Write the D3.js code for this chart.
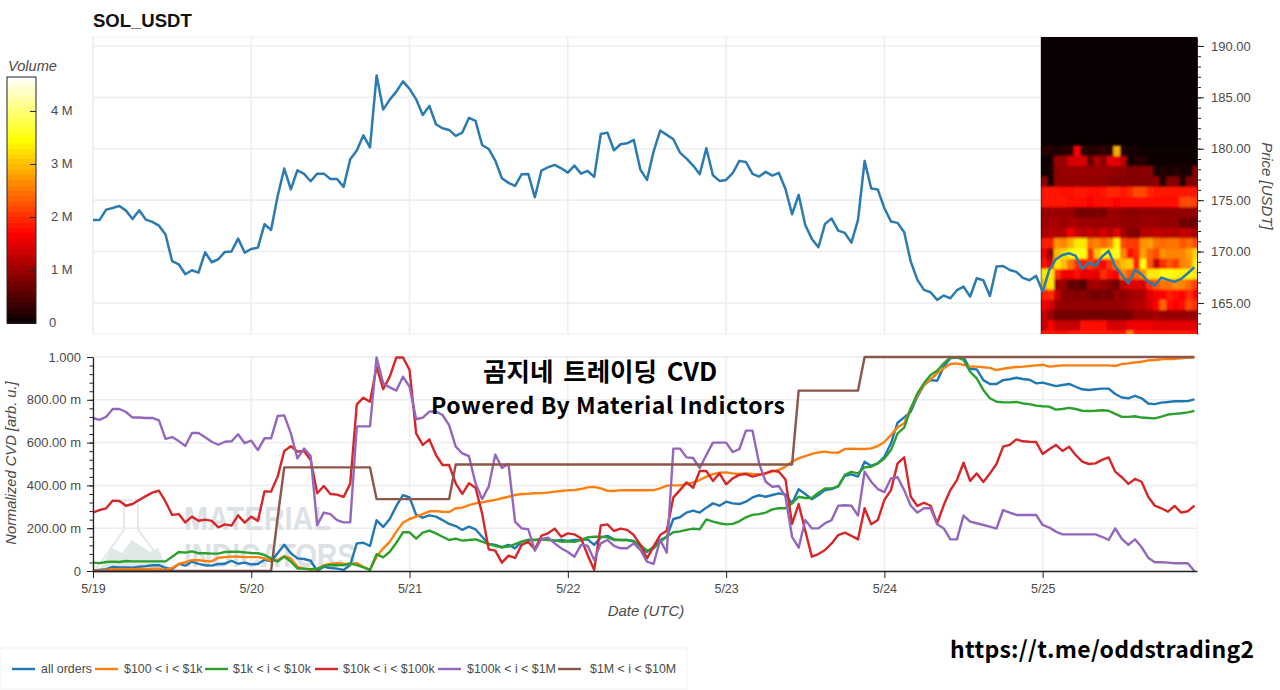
<!DOCTYPE html>
<html><head><meta charset="utf-8">
<script src="https://cdn.jsdelivr.net/npm/d3@7"></script>
<style>html,body{margin:0;padding:0;background:#fff}svg{display:block}text{font-family:"Liberation Sans",Arial,sans-serif}</style>
</head><body><svg id="c" width="1280" height="690"></svg>
<script>
const dayHours=[0,24,48,72,96,120,144];
const dayLabels=["5/19","5/20","5/21","5/22","5/23","5/24","5/25"];
const priceTicks=[165,170,175,180,185,190];
const volumeTicks=[0,1,2,3,4];
const cvdTicks=[0,200,400,600,800,1000];
const seriesNames=["all orders","$100 < i < $1k","$1k < i < $10k","$10k < i < $100k","$100k < i < $1M","$1M < i < $10M"];
const seriesColors=["#1f77b4","#ff7f0e","#2ca02c","#d62728","#9467bd","#8c564b"];

const price=[173.08,173.08,174.08,174.24,174.44,173.98,173.17,174.02,173.11,172.88,172.52,171.65,
169.06,168.76,167.79,168.18,167.95,169.93,168.96,169.25,169.96,170.0,171.26,169.9,
170.25,170.38,172.65,172.1,175.41,178.07,176.06,177.91,177.55,176.84,177.58,177.58,
177.06,177.06,176.29,178.98,179.82,181.31,180.14,187.12,183.81,184.78,185.56,186.56,
185.82,184.81,183.29,184.17,182.38,181.99,181.83,181.25,181.57,183.0,182.71,180.37,
179.98,178.85,177.13,176.68,176.38,177.52,177.55,175.28,177.88,178.2,178.43,178.1,
177.68,178.36,177.58,177.84,177.26,181.44,181.57,179.85,180.44,180.53,180.86,177.97,
176.97,179.72,181.77,181.35,180.92,179.63,179.04,178.36,177.52,180.05,177.42,176.87,
176.97,177.62,178.82,178.72,177.55,177.29,177.75,177.39,177.65,176.09,173.63,175.51,
172.59,171.23,170.42,172.69,173.21,172.04,171.81,170.87,173.08,178.82,176.13,176.03,
174.21,172.92,172.79,171.88,169.02,167.24,166.27,166.04,165.3,165.72,165.46,166.24,
166.59,165.62,167.4,167.21,165.68,168.54,168.6,168.21,168.02,167.44,167.21,167.63,
166.11,168.21,169.25,169.67,169.84,169.58,168.31,168.93,168.6,169.51,170.06,168.54,
167.73,166.92,168.21,167.79,167.08,166.69,167.47,167.24,167.05,167.34,167.89,168.47];

const allOrders=[0,5,9,19,17,17,16,20,23,27,27,14,9,33,25,44,33,27,25,33,34,48,34,39,31,33,53,45,83,123,83,59,56,48,0,20,14,11,5,28,129,132,117,237,206,243,304,354,344,262,249,260,
254,238,220,210,192,207,195,160,126,122,111,122,106,137,145,145,148,148,142,145,140,145,145,148,122,157,164,148,145,145,140,114,89,114,145,160,243,251,273,282,273,296,316,305,324,316,313,324,344,354,347,355,363,358,316,382,360,335,355,378,
383,397,445,452,441,511,491,503,534,597,693,718,745,815,869,892,889,955,994,998,998,944,942,892,874,874,892,896,903,897,894,877,880,872,864,869,874,861,849,846,849,852,852,827,811,807,818,807,783,780,787,790,793,793,794,802];

const orders100=[0,2,5,8,8,8,8,9,9,11,11,5,14,33,41,51,50,47,45,62,65,67,67,65,65,65,59,48,51,70,59,20,11,6,8,27,33,36,34,33,37,20,5,67,106,136,184,226,243,254,266,279,
280,277,276,293,296,308,316,321,327,332,340,347,355,360,361,363,364,366,371,374,377,378,383,391,393,386,375,374,378,377,377,377,377,378,386,399,400,400,405,414,425,441,453,459,461,456,453,456,453,452,456,464,472,488,511,526,537,547,554,558,
553,553,570,572,570,570,573,584,603,636,671,690,760,822,869,896,924,947,967,970,963,955,955,952,949,939,945,950,953,955,958,961,964,955,958,961,961,961,961,961,961,961,961,958,967,970,974,978,984,986,989,991,991,994,997,998];

const orders1k=[39,37,42,44,42,47,45,45,45,45,45,45,67,89,86,92,83,83,81,81,89,90,90,87,84,83,75,59,44,67,44,12,11,9,11,23,28,27,28,36,27,17,5,79,64,90,132,181,181,151,179,189,
176,160,145,151,142,145,148,137,126,117,111,114,126,137,145,145,148,145,142,137,139,136,145,157,160,160,157,145,145,145,137,122,95,106,137,160,181,185,192,198,195,241,231,223,218,220,232,251,262,266,273,288,293,293,316,347,341,341,366,386,
386,394,449,463,456,484,487,503,526,565,643,670,760,830,877,916,936,970,998,998,986,931,900,846,807,791,788,788,790,783,780,773,770,768,754,757,762,757,749,748,749,751,749,734,720,720,723,717,715,713,721,731,734,737,741,748];

const orders10k=[274,285,293,329,327,305,313,332,350,366,375,324,262,266,227,254,235,240,234,204,218,212,260,226,254,234,372,371,441,561,583,558,561,519,363,397,360,357,346,407,779,810,791,955,850,908,998,998,939,643,589,615,
542,495,495,410,360,410,389,269,101,95,39,72,61,122,136,101,165,176,198,160,176,171,153,75,5,213,218,187,198,192,168,122,59,114,168,188,344,378,414,389,467,467,421,456,405,433,449,453,441,449,456,469,464,428,220,313,188,67,79,98,
129,168,179,164,148,293,218,238,332,378,503,531,347,304,319,305,223,308,378,425,506,421,456,416,456,500,581,589,615,606,604,603,547,569,589,561,581,542,511,500,503,519,531,464,438,407,430,417,347,305,293,277,304,273,279,305];

const orders100k=[715,706,721,757,757,743,717,717,715,715,704,617,626,607,584,645,645,625,604,590,604,606,639,597,609,565,620,620,724,727,643,526,572,537,215,273,266,238,227,227,676,676,676,998,877,858,843,908,861,709,717,745,
745,729,682,581,550,537,410,336,394,544,481,500,231,199,195,95,150,156,129,106,89,67,122,118,51,129,145,117,106,106,129,98,44,33,145,86,572,572,531,528,481,542,600,600,600,556,569,656,656,503,417,394,397,347,160,109,238,199,199,223,
238,305,307,305,259,464,417,383,369,433,438,378,305,273,293,293,218,199,148,148,259,231,223,215,207,198,285,273,262,262,262,262,215,203,184,171,171,171,171,171,171,160,145,199,150,122,148,111,62,41,41,39,36,36,36,0];

const orders1m=[0,0,0,0,0,0,0,0,0,0,0,0,0,0,0,0,0,0,0,0,0,0,0,0,0,0,0,0,250,484,484,484,484,484,484,484,484,484,484,484,484,484,484,336,336,336,336,336,336,336,336,336,
336,336,336,498,498,498,498,498,498,498,498,498,498,498,498,498,498,498,498,498,498,498,498,498,498,498,498,498,498,498,498,498,498,498,498,498,498,498,498,498,498,498,498,498,498,498,498,498,498,498,498,498,498,498,498,843,843,843,843,843,
843,843,843,843,843,1000,1000,1000,1000,1000,1000,1000,1000,1000,1000,1000,1000,1000,1000,1000,1000,1000,1000,1000,1000,1000,1000,1000,1000,1000,1000,1000,1000,1000,1000,1000,1000,1000,1000,1000,1000,1000,1000,1000,1000,1000,1000,1000,1000,1000,1000,1000,1000,1000,1000,1000];

/* volume profile rows (millions), one value per hour column */
const vol180=[.2,.2,.15,.2,.2,1.7,.25,.2,.2,.3,.2,2.9,.2,.1,.1,.05,.05,.05,.05,.05,.05,.05,.05,.05];
const vol179=[.03,.03,1.0,1.0,1.4,1.45,1.4,.6,1.15,.9,1.5,1.5,1.2,.05,.2,.2,.05,.05,.05,.05,.05,.05,.05,.05];
const vol178=[.05,.1,.95,1,1,1,1,1,1,1,1,.95,.95,.85,.85,.9,.9,.1,.2,.1,.2,.1,.1,.9];
const vol177=[.9,.05,.95,.95,.95,.95,.95,.95,.95,.95,.85,.85,.85,.85,.85,.85,.85,.9,.15,.85,.85,.15,.85,.85];
const vol176=[1.85,1.85,1.85,1.75,1.75,1.85,1.85,1.75,1.75,1.85,1.95,1.95,1.85,1.95,2.2,2.2,1.95,1.85,1.85,1.85,1.85,1.85,1.85,1.85];
const vol175=[1.85,1.85,1.85,1.85,1.75,1.75,1.75,1.7,1.75,1.75,1.75,1.7,1.75,1.75,1.75,1.75,1.75,1.75,1.75,1.75,1.75,2.2,2.2,2.1];
const vol174=[1,1,1,1,1,.8,.75,.75,.8,.75,1,1,.95,.9,.9,.95,.95,.95,.95,.95,.95,.95,.95,.95];
const vol173=[1,1.1,1.1,1,1.1,1.1,1,1,1,1,1,1,.95,.95,.95,1,1,1,.95,.95,.95,.7,.7,.7];
const vol172=[1.1,1.2,1.1,1.2,1.6,1.3,1.2,1.3,1.2,1.4,1.2,1.5,1.1,.85,.8,1.2,1.2,1.3,1.2,1.2,1.2,1.3,1.2,1.1];
const vol171=[1.9,1.9,2.7,2.6,2.9,3.3,3.3,2.5,2.6,2.4,2.6,3.4,2.2,2.1,2.1,2.7,2.8,2.5,2.4,2.5,2.5,2.3,2.4,2.2];
const vol170=[1.6,.9,3,3.2,3.5,3.6,3.5,2,3,3.4,3.4,3.6,2.6,1.8,2,2.8,2.4,2.2,2.7,2.6,2.6,2.6,2.8,3.2];
const vol169=[1.8,1.5,3.3,3,2.5,2,1.9,2.1,1.9,1.7,2.1,2.7,3,3.1,1.9,3.5,2.3,1.3,2,2.3,2.1,2.6,2.7,3.4];
const vol168=[3.3,3.3,2,1.6,1.6,1.8,1.5,1.6,1.5,2,1.8,1.7,2.6,2.3,2.4,2.7,3.3,3.3,3.5,3.5,3.4,3.4,3.5,3.3];
const vol167=[3,3.3,1,1,.6,.6,.5,1,1.1,1,.9,.7,1.3,1.5,1.5,1.4,2,2.3,2.5,2.5,2.7,2.6,2.4,2.1];
const vol166=[1.9,2,1.3,.9,.9,.8,.9,.8,.7,.8,.7,1,.9,1,1.1,1.1,1.5,1.6,1.7,1.9,1.8,1.7,2,1.7];
const vol165=[1.6,1.4,1,.95,.95,.95,.95,.95,.95,.95,.95,.95,1,1.1,1.2,1.2,1.4,1.7,2.4,1.8,1.7,1.8,2.2,2];
const vol164=[1.3,1,.75,.75,.75,.75,.75,.75,.75,.75,.75,.75,.75,.75,1,1,1,1.1,1,1,1,1,1,1];
const vol163=[1.3,1.7,1.3,1.3,1.3,1.3,1.8,1.8,1.8,1.8,1.4,1.4,1.4,1.6,1.6,1.6,1.6,1.5,1.5,1.5,1.5,1.5,1.5,1.5];
const vol162=[1.9,1.9,1.8,1.8,1.9,1.9,1.9,1.9,1.9,1.9,1.9,1.9,1.9,2.6,1.9,1.9,1.9,1.9,1.9,1.9,1.9,1.9,1.9,1.9];
const volumeRows=[vol180,vol179,vol178,vol177,vol176,vol175,vol174,vol173,vol172,vol171,vol170,vol169,vol168,vol167,vol166,vol165,vol164,vol163,vol162];
const rowTopPrices=[180.3,179.3,178.3,177.3,176.3,175.3,174.3,173.3,172.3,171.3,170.3,169.3,168.3,167.3,166.3,165.3,164.3,163.3,162.3];

const cvd=[allOrders,orders100,orders1k,orders10k,orders100k,orders1m];

const svg=d3.select("#c");
const L=93,R=1197,T1=37,B1=334,T2=357,B2=571;
const x=d3.scaleLinear().domain([0,167.4]).range([L,R]);
const yP=d3.scaleLinear().domain([161.98,190.87]).range([B1,T1]);
const yC=d3.scaleLinear().domain([0,1000]).range([B2,T2]);
const yV=d3.scaleLinear().domain([0,4.64]).range([323,77]);
const hot=d3.scaleLinear().domain([0,1.69,3.45,4.64]).range(["#080000","#ff0000","#ffff00","#ffffff"]);
const grid="#eeeeee",axisCol="#222",labelCol="#4a4a4a";

const defs=svg.append("defs");
defs.append("filter").attr("id","soft").attr("x","-2%").attr("y","-2%").attr("width","104%").attr("height","104%").append("feGaussianBlur").attr("stdDeviation",0.8);
const heatStart=143.72, colW=x(1)-x(0);
const hx0=x(heatStart);
defs.append("clipPath").attr("id","heatClip").append("rect").attr("x",hx0).attr("y",T1).attr("width",R-hx0).attr("height",B1-T1);

// top panel frame and grid
svg.append("rect").attr("x",L).attr("y",T1).attr("width",R-L).attr("height",B1-T1).attr("fill","#fff").attr("stroke","#f0f0f0");
svg.append("g").selectAll("line").data(priceTicks).join("line").attr("x1",L).attr("x2",R).attr("y1",d=>yP(d)).attr("y2",d=>yP(d)).attr("stroke",grid).attr("stroke-width",1.6);
svg.append("g").selectAll("line").data(dayHours).join("line").attr("x1",d=>x(d)).attr("x2",d=>x(d)).attr("y1",T1).attr("y2",B1).attr("stroke",grid).attr("stroke-width",1.6);

// heatmap
svg.append("rect").attr("x",hx0).attr("y",T1).attr("width",R-hx0).attr("height",B1-T1).attr("fill",hot(0));
const hg=svg.append("g").attr("clip-path","url(#heatClip)").append("g").attr("filter","url(#soft)");
volumeRows.forEach((row,r)=>{
  hg.append("g").selectAll("rect").data(row).join("rect")
    .attr("x",(d,i)=>x(heatStart+i)).attr("width",colW+.6)
    .attr("y",yP(rowTopPrices[r])).attr("height",yP(rowTopPrices[r]-1)-yP(rowTopPrices[r])+.5)
    .attr("fill",d=>hot(d));
});

// price line
svg.append("path").datum(price).attr("fill","none").attr("stroke","#2b7bb0").attr("stroke-width",2.5).attr("stroke-linejoin","round")
  .attr("d",d3.line().x((d,i)=>x(i)).y(d=>yP(d)));

// price axis
const pAxis=svg.append("g").attr("transform",`translate(${R},0)`);
pAxis.call(d3.axisRight(yP).tickValues(d3.range(163,191)).tickSize(4).tickSizeOuter(0).tickFormat(""));
pAxis.select(".domain").attr("stroke",axisCol);
pAxis.selectAll("line").attr("stroke",axisCol);
const pAxis2=svg.append("g").attr("transform",`translate(${R},0)`);
pAxis2.call(d3.axisRight(yP).tickValues(priceTicks).tickSize(7).tickPadding(7).tickFormat(d3.format(".2f")));
pAxis2.select(".domain").remove();
pAxis2.selectAll("line").attr("stroke",axisCol);
pAxis2.selectAll("text").attr("fill",labelCol).style("font-size","13px");
svg.append("text").attr("transform","translate(1262,186) rotate(90)").attr("text-anchor","middle").attr("font-style","italic").attr("font-size",15).attr("fill",labelCol).text("Price [USDT]");
svg.append("text").attr("x",93).attr("y",27).attr("font-weight","bold").attr("font-size",18.5).attr("fill","#111").text("SOL_USDT");

// colour bar
const bandStep=0.1;
const bands=d3.range(0,4.64,bandStep);
svg.append("g").attr("shape-rendering","crispEdges").selectAll("rect").data(bands).join("rect")
  .attr("x",7).attr("width",29).attr("y",d=>yV(Math.min(d+bandStep,4.64))).attr("height",d=>yV(d)-yV(Math.min(d+bandStep,4.64))+.5).attr("fill",d=>hot(d+bandStep/2));
svg.append("rect").attr("x",7).attr("y",77).attr("width",29).attr("height",246).attr("fill","none").attr("stroke","#222");
const vAxis=svg.append("g").attr("transform","translate(36,0)");
vAxis.call(d3.axisLeft(yV).tickValues(volumeTicks.slice(1)).tickSize(6).tickFormat(""));
vAxis.select(".domain").remove();vAxis.selectAll("line").attr("stroke","#222");
svg.append("g").selectAll("text").data(volumeTicks).join("text").attr("x",d=>d?51:49).attr("y",d=>yV(d)+(d?4.5:3.5)).attr("font-size",13).attr("fill",labelCol).text(d=>d?d+" M":"0");
svg.append("text").attr("x",8).attr("y",71).attr("font-style","italic").attr("font-size",14.6).attr("fill",labelCol).text("Volume");

// bottom panel grid
svg.append("rect").attr("x",L).attr("y",T2).attr("width",R-L).attr("height",B2-T2).attr("fill","#fff").attr("stroke","#f0f0f0");
svg.append("g").selectAll("line").data(cvdTicks.slice(1)).join("line").attr("x1",L).attr("x2",R).attr("y1",d=>yC(d)).attr("y2",d=>yC(d)).attr("stroke",grid).attr("stroke-width",1.6);
svg.append("g").selectAll("line").data(dayHours).join("line").attr("x1",d=>x(d)).attr("x2",d=>x(d)).attr("y1",T2).attr("y2",B2).attr("stroke",grid).attr("stroke-width",1.6);

// watermark
const wm=svg.append("g");
wm.append("path").attr("d","M120 500L142 500M124 500L124 530L96 569L168 569L138 530L138 500").attr("fill","none").attr("stroke","#e6e9ea").attr("stroke-width",2);
wm.append("path").attr("d","M100 568L112 548L122 553L132 540L150 552L158 548L167 568Z").attr("fill","#e0e9e6");
wm.append("text").attr("x",184).attr("y",530).attr("font-weight","bold").attr("font-size",34).attr("fill","#dce1e5").attr("textLength",147).attr("lengthAdjust","spacingAndGlyphs").text("MATERIAL");
wm.append("text").attr("x",184).attr("y",567).attr("font-weight","bold").attr("font-size",34).attr("fill","#dce1e5").attr("textLength",172).attr("lengthAdjust","spacingAndGlyphs").text("INDICATORS");

// cvd lines
const cLine=d3.line().x((d,i)=>x(i)).y(d=>yC(d));
svg.append("g").selectAll("path").data(cvd).join("path").attr("fill","none").attr("stroke",(d,i)=>seriesColors[i]).attr("stroke-width",2.4).attr("stroke-linejoin","round").attr("d",cLine);

// cvd axes
const cMinor=svg.append("g").attr("transform",`translate(${L},0)`);
cMinor.call(d3.axisLeft(yC).tickValues(d3.range(0,1001,40)).tickSize(3.5).tickSizeOuter(0).tickFormat(""));
cMinor.selectAll("line").attr("stroke",axisCol);cMinor.select(".domain").attr("stroke",axisCol).attr("stroke-width",1.3);
const cMajor=svg.append("g").attr("transform",`translate(${L},0)`);
cMajor.call(d3.axisLeft(yC).tickValues(cvdTicks).tickSize(6).tickPadding(6).tickFormat(d=>d===0?"0":d===1000?"1.000":d3.format(".2f")(d)+" m"));
cMajor.select(".domain").remove();cMajor.selectAll("line").attr("stroke",axisCol);
cMajor.selectAll("text").attr("fill",labelCol).style("font-size","13px");
const xAxis=svg.append("g").attr("transform",`translate(0,${B2})`);
xAxis.call(d3.axisBottom(x).tickValues(dayHours).tickSize(7).tickSizeOuter(0).tickPadding(6).tickFormat((d,i)=>dayLabels[i]));
xAxis.select(".domain").attr("stroke",axisCol).attr("stroke-width",1.3);xAxis.selectAll("line").attr("stroke",axisCol);
xAxis.selectAll("text").attr("fill",labelCol).style("font-size","12.5px");
svg.append("text").attr("transform","translate(16,463) rotate(-90)").attr("text-anchor","middle").attr("font-style","italic").attr("font-size",14.7).attr("fill",labelCol).text("Normalized CVD [arb. u.]");
svg.append("text").attr("x",646).attr("y",616).attr("text-anchor","middle").attr("font-style","italic").attr("font-size",15).attr("fill",labelCol).text("Date (UTC)");

// overlay text
const cjk='"Noto Sans CJK KR",sans-serif';
svg.append("text").attr("x",483).attr("y",381).style("font-family",cjk).style("word-spacing","4px").attr("font-weight",700).attr("font-size",25.5).attr("fill","#000").text("곰지네 트레이딩 CVD");
svg.append("text").attr("x",431).attr("y",414).style("font-family",cjk).attr("font-weight",700).attr("font-size",23).attr("fill","#000").attr("textLength",354).text("Powered By Material Indictors");
svg.append("text").attr("x",950).attr("y",658).style("font-family",cjk).attr("font-weight",700).attr("font-size",23).attr("fill","#000").attr("textLength",304).text("https://t.me/oddstrading2");

// legend
svg.append("rect").attr("x",0).attr("y",648).attr("width",687).attr("height",41).attr("fill","#fff").attr("stroke","#f2f2f2");
const legendSwatchX=[12,95,205,315,438,558];
const legendTextX=[41,124,233,343,467,590];
const lg=svg.append("g");
lg.selectAll("line").data(seriesNames).join("line").attr("x1",(d,i)=>legendSwatchX[i]).attr("x2",(d,i)=>legendSwatchX[i]+23).attr("y1",669).attr("y2",669).attr("stroke",(d,i)=>seriesColors[i]).attr("stroke-width",2.4);
lg.selectAll("text").data(seriesNames).join("text").attr("x",(d,i)=>legendTextX[i]).attr("y",673).attr("font-size",12.4).attr("fill",labelCol).text(d=>d);
</script></body></html>
